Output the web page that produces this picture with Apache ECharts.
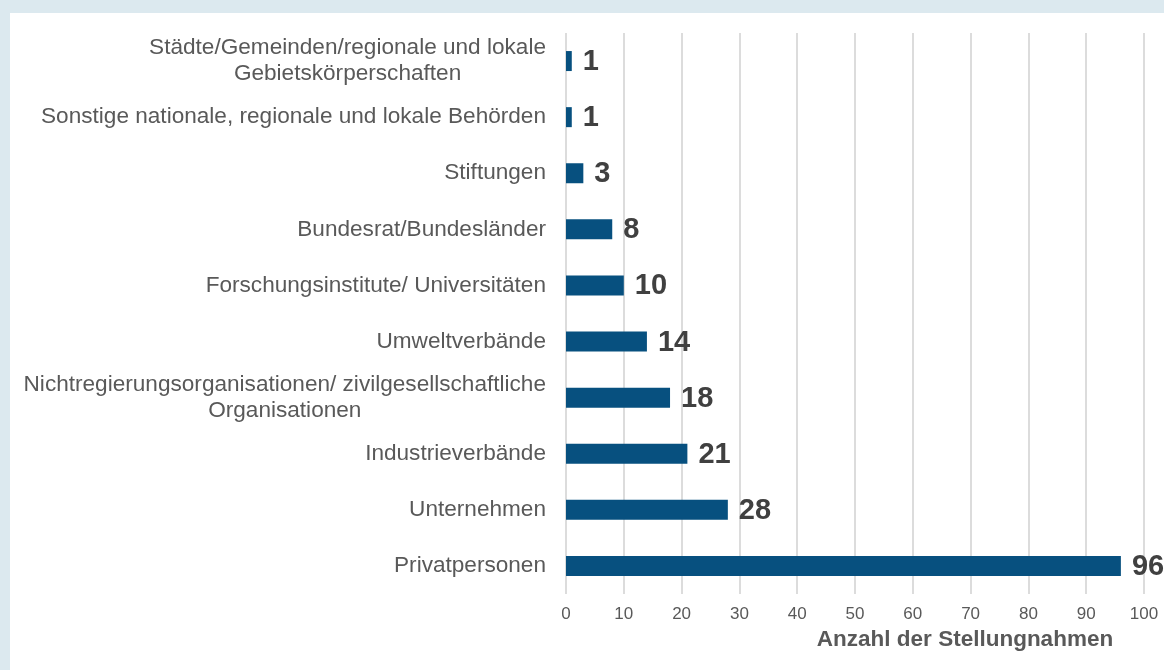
<!DOCTYPE html>
<html>
<head>
<meta charset="utf-8">
<script src="https://cdn.jsdelivr.net/npm/echarts@6/dist/echarts.min.js"></script>
<style>
  html, body { margin: 0; padding: 0; background: #dce9ef; width: 1164px; height: 670px; overflow: hidden; }
  #chart { position: absolute; left: 10px; top: 13px; width: 1154px; height: 657px; background: #ffffff; }
</style>
</head>
<body>
<div id="chart"></div>
<script>
const categories = [
  "Städte/Gemeinden/regionale und lokale\nGebietskörperschaften",
  "Sonstige nationale, regionale und lokale Behörden",
  "Stiftungen",
  "Bundesrat/Bundesländer",
  "Forschungsinstitute/ Universitäten",
  "Umweltverbände",
  "Nichtregierungsorganisationen/ zivilgesellschaftliche\nOrganisationen",
  "Industrieverbände",
  "Unternehmen",
  "Privatpersonen"
];
const values = [1, 1, 3, 8, 10, 14, 18, 21, 28, 96];
const xTicks = { min: 0, max: 100, interval: 10 };
const xAxisName = "Anzahl der Stellungnahmen";

const chart = echarts.init(document.getElementById('chart'), null, { renderer: 'canvas' });
const font = "'Liberation Sans', Arial, sans-serif";
chart.setOption({
  animation: false,
  grid: { left: 556, top: 20, width: 578, height: 561, containLabel: false },
  xAxis: {
    type: 'value',
    min: xTicks.min, max: xTicks.max, interval: xTicks.interval,
    axisLine: { show: false },
    axisTick: { show: false },
    splitLine: { show: true, lineStyle: { color: '#dcdcdc', width: 2 } },
    axisLabel: { color: '#595959', fontSize: 17, fontFamily: font, margin: 12 },
    name: xAxisName,
    nameLocation: 'middle',
    nameGap: 30,
    nameTextStyle: { color: '#595959', fontSize: 22.5, fontWeight: 'bold', fontFamily: font, padding: [0, 0, 0, 220] }
  },
  yAxis: {
    type: 'category',
    inverse: true,
    data: categories,
    axisLine: { show: false },
    axisTick: { show: false },
    splitLine: { show: false },
    axisLabel: {
      margin: 20,
      align: 'right',
      color: '#595959',
      fontSize: 22.6,
      fontFamily: font,
      lineHeight: 26,
      formatter: function (v) {
        return v.split('\n').map(function (s) { return '{c|' + s + '}'; }).join('\n');
      },
      rich: {
        c: { align: 'center', color: '#595959', fontSize: 22.6, fontFamily: font, lineHeight: 26 }
      }
    }
  },
  series: [{
    type: 'bar',
    data: values,
    barWidth: 20,
    itemStyle: { color: '#07507f' },
    label: {
      show: true,
      position: 'right',
      distance: 11,
      color: '#404040',
      fontSize: 29,
      fontWeight: 'bold',
      fontFamily: font,
      offset: [0, 1]
    }
  }]
});
</script>
</body>
</html>
